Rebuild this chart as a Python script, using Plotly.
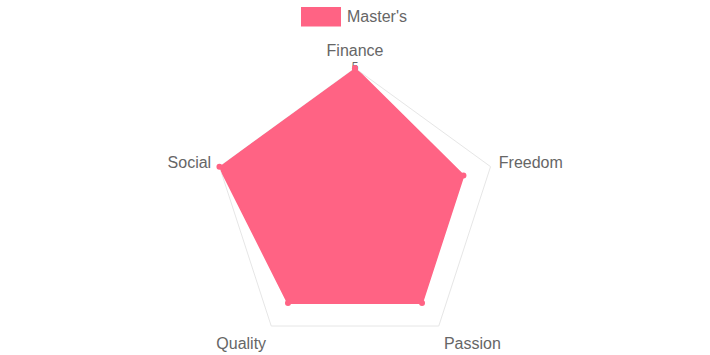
import plotly.graph_objects as go

categories = ["Finance", "Freedom", "Passion", "Quality", "Social"]
masters = [5, 4, 4, 4, 5]
series_name = "Master's"
tick_values = [0, 1, 2, 3, 4, 5]
tick_labels = ["0", "1", "2", "3", "4", "5"]

pink = "#ff6384"
font = "Liberation Sans, Arial, sans-serif"
W, H = 710, 355

fig = go.Figure()

# radial tick labels (drawn first so the dataset fill covers them, like Chart.js)
fig.add_trace(go.Scatterpolar(
    r=tick_values, theta=[categories[0]] * len(tick_values), text=tick_labels,
    mode="text", textposition="middle center",
    textfont=dict(family=font, size=12, color="#666666"),
    showlegend=False, hoverinfo="skip"))

fig.add_trace(go.Scatterpolar(
    r=masters + [masters[0]], theta=categories + [categories[0]],
    name=series_name, mode="lines+markers", fill="toself",
    fillcolor=pink, line=dict(color=pink, width=2),
    marker=dict(color=pink, size=6), showlegend=False))

# Chart.js style legend: wide colour box + label
fig.add_shape(type="rect", xref="paper", yref="paper",
              x0=301 / W, x1=341 / W, y0=1 - 26.5 / H, y1=1 - 7 / H,
              fillcolor=pink, line=dict(color=pink, width=0))
fig.add_annotation(text=series_name, xref="paper", yref="paper",
                   x=345 / W, y=1 - 16.5 / H, xanchor="left", yanchor="middle",
                   showarrow=False,
                   font=dict(family=font, size=16, color="#666666"))

fig.update_layout(
    width=W, height=H,
    margin=dict(l=0, r=0, t=0, b=0),
    paper_bgcolor="white", plot_bgcolor="white",
    font=dict(family=font, size=16, color="#666666"),
    showlegend=False,
    polar=dict(
        domain=dict(x=[0, 1], y=[0.005, 0.808]),
        bgcolor="white",
        gridshape="linear",
        radialaxis=dict(range=[0, 5], tickvals=tick_values, showticklabels=False,
                        showline=False, ticks="", gridcolor="#e6e6e6",
                        layer="below traces"),
        angularaxis=dict(rotation=90, direction="clockwise", showgrid=False,
                         showline=True, linecolor="#e6e6e6", linewidth=1,
                         ticks="outside", ticklen=5, tickcolor="rgba(0,0,0,0)",
                         tickfont=dict(family=font, size=16, color="#666666"),
                         layer="below traces"),
    ),
)

fig.write_html("out.html")
